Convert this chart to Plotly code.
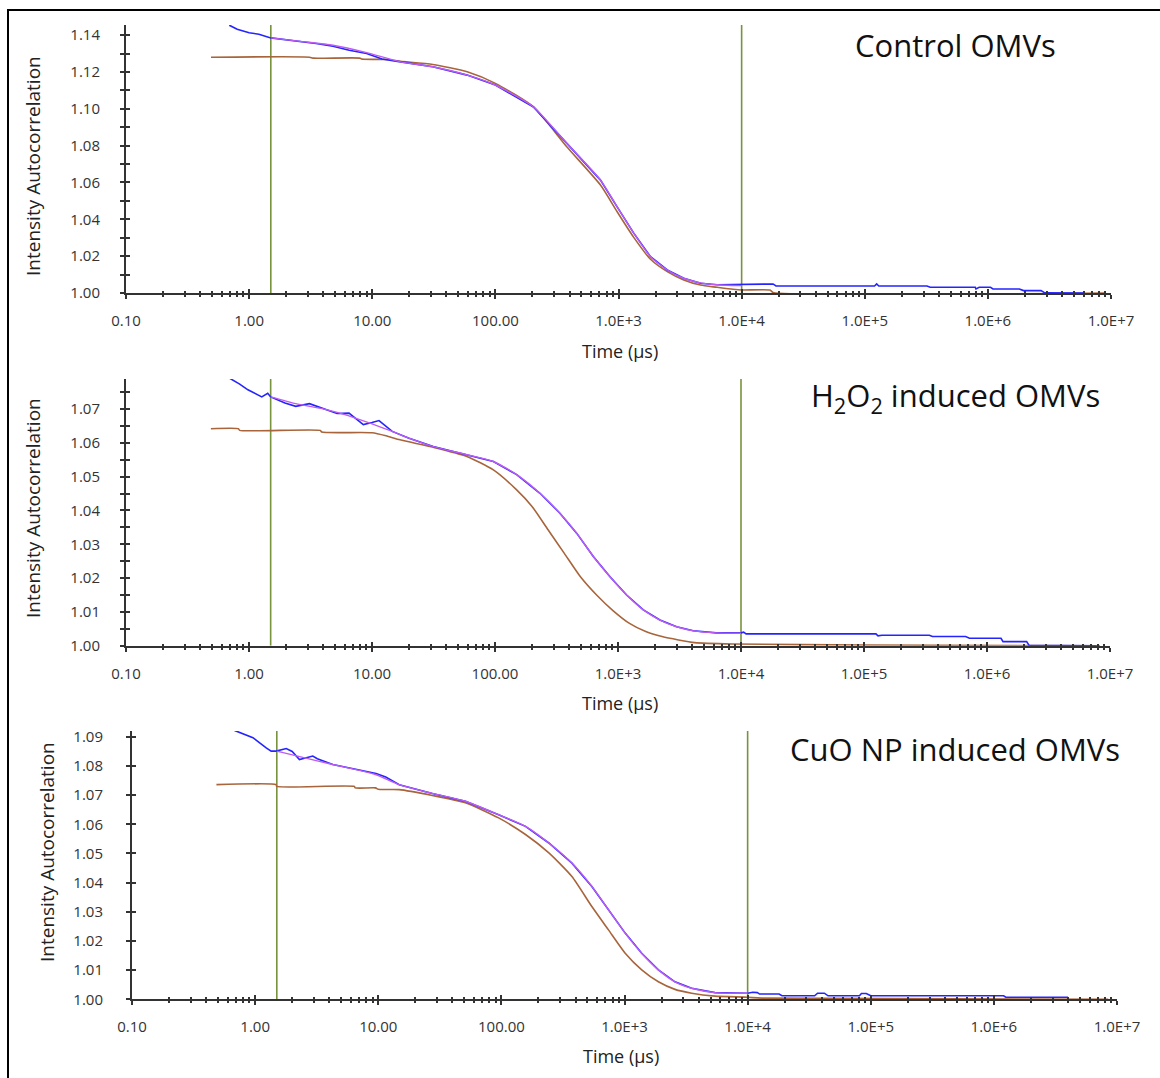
import plotly.graph_objects as go

# ---------------- data ----------------
x_tick_vals = [0.1, 1, 10, 100, 1e3, 1e4, 1e5, 1e6, 1e7]
x_tick_text = ["0.10", "1.00", "10.00", "100.00", "1.0E+3", "1.0E+4", "1.0E+5", "1.0E+6", "1.0E+7"]
marker_lines_t = [1.5, 1.0e4]

panel_titles = ["Control OMVs", "H<sub>2</sub>O<sub>2</sub> induced OMVs", "CuO NP induced OMVs"]

# Control OMVs
control_meas_t = [0.69, 0.8, 1.0, 1.2, 1.5, 2.0, 2.6, 3.5, 4.8, 6.5, 9.0, 12, 17, 31, 59, 100, 204, 380,
                  714, 975, 1330, 1820, 2490, 3390, 4640, 6320, 1.0e4, 1.8e4, 1.9e4, 1.2e5, 1.25e5, 1.3e5,
                  3.2e5, 3.4e5, 7.9e5, 8.0e5, 8.5e5, 1.05e6, 1.1e6, 1.8e6, 1.95e6, 2.7e6, 2.9e6, 6.0e6]
control_meas_g = [1.1454, 1.1432, 1.1413, 1.1405, 1.1385, 1.1375, 1.1366, 1.1355, 1.1340, 1.1318, 1.1300,
                  1.1270, 1.1255, 1.1228, 1.1183, 1.1129, 1.1010, 1.0813, 1.0613, 1.0468, 1.0325, 1.0197,
                  1.0125, 1.0080, 1.0053, 1.0045, 1.0047, 1.0049, 1.0038, 1.0038, 1.0049, 1.0038, 1.0038,
                  1.0031, 1.0031, 1.0022, 1.0031, 1.0031, 1.0022, 1.0022, 1.0013, 1.0013, 1.0001, 1.0000]
control_fit_t = [1.5, 2.6, 4.8, 9.0, 17, 31, 59, 100, 204, 380, 714, 975, 1330, 1820, 2490, 3390, 4640, 6320, 1.0e4]
control_fit_g = [1.1385, 1.1366, 1.1345, 1.1305, 1.1255, 1.1228, 1.1183, 1.1129, 1.1010, 1.0813, 1.0613,
                 1.0468, 1.0325, 1.0197, 1.0125, 1.0080, 1.0055, 1.0045, 1.0040]
control_dist_t = [0.49, 3.1, 3.3, 8.0, 8.2, 13, 17, 31, 59, 100, 204, 380, 714, 975, 1330, 1820, 2490,
                  3390, 4640, 6320, 8500, 1.0e4, 1.7e4, 1.8e4, 9.0e6]
control_dist_g = [1.1280, 1.1280, 1.1275, 1.1275, 1.1270, 1.1268, 1.1258, 1.1241, 1.1201, 1.1138, 1.1010,
                  1.0794, 1.0586, 1.0441, 1.0302, 1.0183, 1.0116, 1.0071, 1.0043, 1.0031, 1.0020, 1.0016,
                  1.0016, 1.0003, 1.0000]

# H2O2 induced OMVs
h2o2_meas_t = [0.69, 0.84, 0.98, 1.27, 1.42, 1.5, 1.96, 2.4, 3.1, 4.1, 5.2, 6.5, 8.5, 10, 11.4, 14.6, 20,
               31.5, 59, 97, 150, 232, 337, 461, 630, 861, 1175, 1607, 2193, 2997, 4094, 6310, 1.0e4,
               1.05e4, 1.1e4, 1.25e5, 1.3e5, 1.4e5, 3.4e5, 3.6e5, 6.7e5, 7.2e5, 1.3e6, 1.35e6, 2.1e6,
               2.2e6, 7.8e6]
h2o2_meas_g = [1.0792, 1.0774, 1.0757, 1.0736, 1.0747, 1.0736, 1.0718, 1.0708, 1.0716, 1.0700, 1.0687,
               1.0688, 1.0654, 1.0660, 1.0666, 1.0634, 1.0614, 1.0589, 1.0565, 1.0545, 1.0506, 1.0451,
               1.0392, 1.0333, 1.0264, 1.0204, 1.0150, 1.0106, 1.0076, 1.0056, 1.0044, 1.0038, 1.0038,
               1.0040, 1.0035, 1.0035, 1.0029, 1.0031, 1.0031, 1.0027, 1.0027, 1.0022, 1.0022, 1.0012,
               1.0012, 1.0001, 1.0000]
h2o2_fit_t = [1.5, 2.4, 4.1, 6.5, 10, 14.6, 20, 31.5, 59, 97, 150, 232, 337, 461, 630, 861, 1175, 1607,
              2193, 2997, 4094, 6310, 1.0e4]
h2o2_fit_g = [1.0736, 1.0716, 1.0700, 1.0680, 1.0656, 1.0634, 1.0614, 1.0589, 1.0565, 1.0545, 1.0506,
              1.0451, 1.0392, 1.0333, 1.0264, 1.0204, 1.0150, 1.0106, 1.0076, 1.0056, 1.0044, 1.0038, 1.0037]
h2o2_dist_t = [0.49, 0.82, 0.84, 3.8, 3.9, 10, 13, 16.9, 31.5, 59, 97, 150, 200, 270, 365, 495, 670, 910,
               1240, 1680, 2280, 3100, 4200, 8500, 1.0e5, 8.3e6]
h2o2_dist_g = [1.0642, 1.0642, 1.0637, 1.0637, 1.0632, 1.0630, 1.0621, 1.0609, 1.0587, 1.0560, 1.0520,
               1.0461, 1.0412, 1.0343, 1.0274, 1.0204, 1.0150, 1.0104, 1.0066, 1.0042, 1.0027, 1.0017,
               1.0009, 1.0005, 1.0002, 1.0000]

# CuO NP induced OMVs
cuo_meas_t = [0.68, 0.96, 1.23, 1.35, 1.48, 1.79, 2.0, 2.29, 2.94, 3.2, 4.27, 6.2, 9.6, 11.5, 14.8, 27.5,
              51, 95, 157, 243, 374, 543, 741, 1013, 1380, 1885, 2570, 3510, 5430, 1.0e4, 1.1e4, 1.2e4,
              1.25e4, 1.8e4, 1.9e4, 3.5e4, 3.7e4, 4.2e4, 4.5e4, 8.1e4, 8.4e4, 9.2e4, 1.0e5, 1.2e6,
              1.25e6, 4.0e6]
cuo_meas_g = [1.0922, 1.0897, 1.0862, 1.0851, 1.0851, 1.0860, 1.0850, 1.0822, 1.0834, 1.0825, 1.0805,
              1.0790, 1.0774, 1.0762, 1.0736, 1.0706, 1.0679, 1.0633, 1.0593, 1.0536, 1.0467, 1.0387,
              1.0307, 1.0227, 1.0158, 1.0101, 1.0060, 1.0038, 1.0023, 1.0021, 1.0024, 1.0023, 1.0018,
              1.0018, 1.0012, 1.0012, 1.0021, 1.0021, 1.0012, 1.0012, 1.0020, 1.0020, 1.0012, 1.0012,
              1.0007, 1.0007]
cuo_fit_t = [1.5, 2.3, 4.27, 6.2, 9.6, 14.8, 27.5, 51, 95, 157, 243, 374, 543, 741, 1013, 1380, 1885,
             2570, 3510, 5430, 1.0e4]
cuo_fit_g = [1.0851, 1.0832, 1.0805, 1.0790, 1.0770, 1.0736, 1.0706, 1.0679, 1.0633, 1.0593, 1.0536,
             1.0467, 1.0387, 1.0307, 1.0227, 1.0158, 1.0101, 1.0060, 1.0038, 1.0023, 1.0021]
cuo_dist_t = [0.485, 1.48, 1.5, 6.4, 6.5, 9.5, 10, 14.8, 27.5, 51, 95, 157, 243, 374, 543, 741, 1013,
              1380, 1885, 2570, 3510, 5430, 1.0e4, 1.3e4, 8.5e6]
cuo_dist_g = [1.0736, 1.0736, 1.0730, 1.0730, 1.0725, 1.0725, 1.0720, 1.0719, 1.0699, 1.0674, 1.0622,
              1.0565, 1.0502, 1.0421, 1.0318, 1.0238, 1.0158, 1.0101, 1.0060, 1.0034, 1.0021, 1.0011,
              1.0007, 1.0004, 1.0000]

# y-axis settings per panel: (range top, major step, minor step)
y_tops = [1.1455, 1.0789, 1.092]
y_steps = [0.02, 0.01, 0.01]
y_minor_steps = [0.01, 0.005, None]

# ---------------- layout geometry ----------------
W, H = 1160, 1078
x_dom_px = [(126, 1111), (126, 1110), (132, 1117)]
y_dom_px = [(25, 293), (379, 645.7), (731, 999.3)]  # (top, bottom) in pixels
xtitle_px = [(620, 351), (620, 703), (621, 1056)]
ytitle_px = [(33, 166), (33, 508), (47, 852)]
ptitle_px = [(955, 45), (955, 397), (955, 749)]

BLUE = "#2424FF"
PURPLE = "#BE5CF0"
BROWN = "#A8653C"
GREEN = "#77933C"
AXC = "#333333"
FONT = "Open Sans"

panels = [
    (control_meas_t, control_meas_g, control_fit_t, control_fit_g, control_dist_t, control_dist_g),
    (h2o2_meas_t, h2o2_meas_g, h2o2_fit_t, h2o2_fit_g, h2o2_dist_t, h2o2_dist_g),
    (cuo_meas_t, cuo_meas_g, cuo_fit_t, cuo_fit_g, cuo_dist_t, cuo_dist_g),
]

fig = go.Figure()
layout = dict(
    template="none",
    width=W, height=H, margin=dict(l=0, r=0, t=0, b=0, pad=0, autoexpand=False),
    paper_bgcolor="white", plot_bgcolor="white", showlegend=False,
    font=dict(family=FONT, color="#222"),
)
annotations = []

for i, (mt, mg, ft, fg, dt, dg) in enumerate(panels):
    n = i + 1
    xa = "x" if n == 1 else f"x{n}"
    ya = "y" if n == 1 else f"y{n}"
    top = y_tops[i]
    # green marker lines
    for t in marker_lines_t:
        fig.add_trace(go.Scatter(x=[t, t], y=[1.0, top], mode="lines",
                                 line=dict(color=GREEN, width=1.6), xaxis=xa, yaxis=ya,
                                 hoverinfo="skip"))
    fig.add_trace(go.Scatter(x=dt, y=dg, mode="lines", line=dict(color=BROWN, width=1.6, shape="spline", smoothing=0.6),
                             xaxis=xa, yaxis=ya))
    fig.add_trace(go.Scatter(x=mt, y=mg, mode="lines", line=dict(color=BLUE, width=1.6),
                             xaxis=xa, yaxis=ya))
    fig.add_trace(go.Scatter(x=ft, y=fg, mode="lines", line=dict(color=PURPLE, width=1.4, shape="spline", smoothing=0.6),
                             xaxis=xa, yaxis=ya))

    xd = [x_dom_px[i][0] / W, x_dom_px[i][1] / W]
    yd = [1 - y_dom_px[i][1] / H, 1 - y_dom_px[i][0] / H]
    nticks_y = int(round((top - 1.0) / y_steps[i] + 1e-9))
    yvals = [round(1.0 + k * y_steps[i], 4) for k in range(nticks_y + 1) if 1.0 + k * y_steps[i] <= top + 1e-9]
    ytext = [f"{v:.2f}" for v in yvals]

    base_x = dict(type="log", range=[-1, 7], domain=xd, tickmode="array", automargin=False,
                  tickvals=x_tick_vals, ticktext=x_tick_text, showgrid=False, zeroline=False)
    base_y = dict(range=[1.0, top], domain=yd, tickmode="array", tickvals=yvals, automargin=False,
                  showgrid=False, zeroline=False)

    layout[f"xaxis{n}"] = dict(
        base_x, anchor=ya, showline=True, linecolor=AXC, linewidth=2,
        ticks="outside", ticklen=4, tickwidth=1.5, tickcolor=AXC,
        ticktext=x_tick_text, tickfont=dict(size=15, color="#333", family=FONT),
        ticklabelstandoff=9,
        minor=dict(dtick="D1", ticks="outside", ticklen=2, tickwidth=1.5, tickcolor=AXC, showgrid=False),
    )
    ydict = dict(
        base_y, anchor=xa, showline=True, linecolor=AXC, linewidth=2,
        ticks="outside", ticklen=4, tickwidth=1.5, tickcolor=AXC,
        ticktext=ytext, tickfont=dict(size=15, color="#333", family=FONT),
        ticklabelstandoff=17 if i < 2 else 20,
    )
    if y_minor_steps[i]:
        ydict["minor"] = dict(dtick=y_minor_steps[i], tick0=1.0, ticks="outside", ticklen=4,
                              tickwidth=1.5, tickcolor=AXC, showgrid=False)
    layout[f"yaxis{n}"] = ydict

    # overlay axes for the inward half of the crossing ticks
    ox, oy = n + 3, n + 3
    layout[f"xaxis{ox}"] = dict(
        base_x, overlaying=xa, anchor=ya, side="bottom", showline=False, showticklabels=False,
        ticks="inside", ticklen=4, tickwidth=1.5, tickcolor=AXC,
        minor=dict(dtick="D1", ticks="inside", ticklen=2, tickwidth=1.5, tickcolor=AXC, showgrid=False),
    )
    oyd = dict(base_y, overlaying=ya, anchor=xa, side="left", showline=False, showticklabels=False,
               ticks="inside", ticklen=4, tickwidth=1.5, tickcolor=AXC)
    if y_minor_steps[i]:
        oyd["minor"] = dict(dtick=y_minor_steps[i], tick0=1.0, ticks="inside", ticklen=4,
                            tickwidth=1.5, tickcolor=AXC, showgrid=False)
    layout[f"yaxis{oy}"] = oyd
    fig.add_trace(go.Scatter(x=[None], y=[None], xaxis=f"x{ox}", yaxis=f"y{oy}", hoverinfo="skip"))

    # texts
    annotations.append(dict(text="Time (µs)", x=xtitle_px[i][0] / W, y=1 - xtitle_px[i][1] / H,
                            xref="paper", yref="paper", showarrow=False,
                            font=dict(size=18, color="#222", family=FONT), xanchor="center", yanchor="middle"))
    annotations.append(dict(text="Intensity Autocorrelation", x=ytitle_px[i][0] / W, y=1 - ytitle_px[i][1] / H,
                            xref="paper", yref="paper", showarrow=False, textangle=-90,
                            font=dict(size=19, color="#222", family=FONT), xanchor="center", yanchor="middle"))
    annotations.append(dict(text=panel_titles[i], x=ptitle_px[i][0] / W, y=1 - ptitle_px[i][1] / H,
                            xref="paper", yref="paper", showarrow=False,
                            font=dict(size=31, color="#111", family=FONT), xanchor="center", yanchor="middle"))

layout["annotations"] = annotations
layout["shapes"] = [dict(type="rect", xref="paper", yref="paper", x0=8 / W, x1=1.01,
                         y0=-0.01, y1=1 - 10 / H, line=dict(color="black", width=2), layer="below")]
fig.update_layout(**layout)
fig.write_html("out.html")
